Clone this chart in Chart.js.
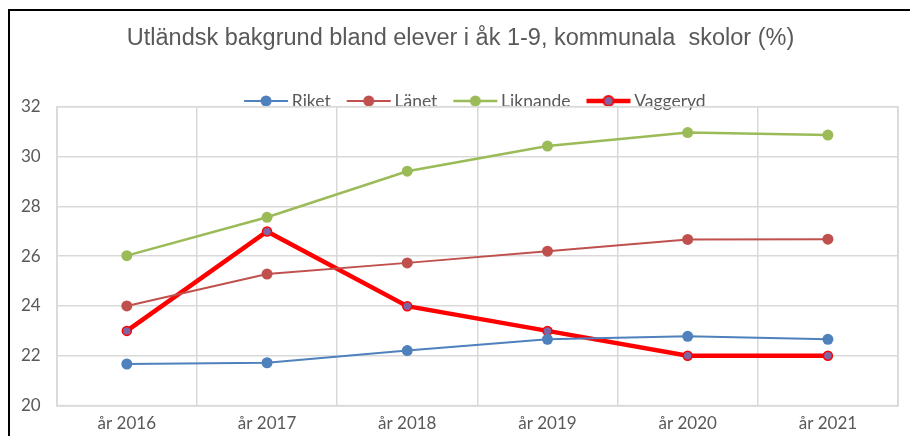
<!DOCTYPE html>
<html>
<head>
<meta charset="utf-8">
<script src="https://cdn.jsdelivr.net/npm/chart.js@4/dist/chart.umd.min.js"></script>
<style>
  html, body { margin: 0; padding: 0; background: #fff; }
  #wrap { width: 910px; height: 436px; position: relative; }
</style>
</head>
<body>
<div id="wrap"><canvas id="chartCanvas"></canvas></div>
<script>
// Data
const years = ["år 2016", "år 2017", "år 2018", "år 2019", "år 2020", "år 2021"];
const riket = [21.67, 21.72, 22.21, 22.66, 22.78, 22.66];
const lanet = [24.0, 25.28, 25.73, 26.2, 26.67, 26.68];
const liknande = [26.02, 27.56, 29.41, 30.42, 30.96, 30.86];
const vaggeryd = [23.0, 26.99, 23.99, 23.0, 22.0, 22.0];
const yTicks = [20, 22, 24, 26, 28, 30, 32];

const grey = '#595959';
const gridGrey = '#d9d9d9';

// Legend symbol: line with marker in the middle
function legendIcon(lineColor, lineW, fill, border, r) {
    const c = document.createElement('canvas');
    c.width = 46; c.height = 14;
    const g = c.getContext('2d');
    g.strokeStyle = lineColor;
    g.lineWidth = lineW;
    g.beginPath();
    g.moveTo(1, 7); g.lineTo(45, 7);
    g.stroke();
    g.beginPath();
    g.arc(23, 7, r, 0, Math.PI * 2);
    g.fillStyle = fill;
    g.fill();
    if (border) {
        g.lineWidth = 2;
        g.strokeStyle = border;
        g.stroke();
    }
    return c;
}

const icons = [
    legendIcon('#4f81bd', 2, '#4f81bd', null, 5.5),
    legendIcon('#c0504d', 2, '#c0504d', null, 5.5),
    legendIcon('#9bbb59', 2.5, '#9bbb59', null, 5.5),
    legendIcon('#ff0000', 4.5, '#8064a2', '#ff0000', 5)
];

// Outer frame (cropped on right and bottom) + plot area border
const framePlugin = {
    id: 'frame',
    beforeDatasetsDraw(chart) {
        const ctx = chart.ctx;
        const a = chart.chartArea;
        ctx.save();
        ctx.strokeStyle = gridGrey;
        ctx.lineWidth = 1.5;
        ctx.strokeRect(a.left, a.top, a.right - a.left, a.bottom - a.top);
        ctx.restore();
    },
    afterDraw(chart) {
        const ctx = chart.ctx;
        ctx.save();
        ctx.strokeStyle = '#000';
        ctx.lineWidth = 2;
        ctx.beginPath();
        ctx.moveTo(9, 440);
        ctx.lineTo(9, 10);
        ctx.lineTo(920, 10);
        ctx.stroke();
        ctx.restore();
    }
};

// Nudge title right (original is cropped on the right) and legend down onto the plot top
const shiftPlugin = {
    id: 'shift',
    afterLayout(chart) {
        chart.titleBlock.left += 9;
        chart.titleBlock.right += 9;
        chart.legend.top += 13;
        chart.legend.bottom += 13;
    }
};

function makeSet(label, data, color, width, r, fill, border) {
    return {
        label: label,
        data: data,
        borderColor: color,
        backgroundColor: fill,
        borderWidth: width,
        pointRadius: r,
        pointHoverRadius: r,
        pointBackgroundColor: fill,
        pointBorderColor: border || fill,
        pointBorderWidth: border ? 1.5 : 0,
        pointStyle: 'circle',
        tension: 0,
        fill: false
    };
}

const ctx = document.getElementById('chartCanvas').getContext('2d');
const chart = new Chart(ctx, {
    type: 'line',
    data: {
        labels: years,
        datasets: [
            makeSet('Riket', riket, '#4f81bd', 2, 5.5, '#4f81bd', null),
            makeSet('Länet', lanet, '#c0504d', 2, 5.5, '#c0504d', null),
            makeSet('Liknande', liknande, '#9bbb59', 2.5, 5.5, '#9bbb59', null),
            makeSet('Vaggeryd', vaggeryd, '#ff0000', 4.5, 4.5, '#8064a2', '#ff0000')
        ]
    },
    options: {
        responsive: true,
        maintainAspectRatio: false,
        animation: false,
        devicePixelRatio: 1,
        layout: { padding: { left: 5, right: 12, top: 0, bottom: 3 } },
        plugins: {
            title: {
                display: true,
                text: 'Utländsk bakgrund bland elever i åk 1-9, kommunala  skolor (%)',
                color: grey,
                font: { family: 'Liberation Sans', size: 23.5, weight: 'normal' },
                padding: { top: 24, bottom: 6 }
            },
            legend: {
                display: true,
                position: 'top',
                fullSize: false,
                labels: {
                    color: grey,
                    font: { family: 'Lato', size: 17.5 },
                    usePointStyle: true,
                    pointStyleWidth: 34,
                    padding: 21,
                    generateLabels(chart) {
                        return chart.data.datasets.map((ds, i) => ({
                            text: ds.label,
                            pointStyle: icons[i],
                            fillStyle: ds.borderColor,
                            strokeStyle: ds.borderColor,
                            lineWidth: 0,
                            fontColor: grey,
                            hidden: false,
                            datasetIndex: i
                        }));
                    }
                }
            },
            tooltip: { enabled: false }
        },
        scales: {
            x: {
                offset: true,
                grid: { offset: true, color: gridGrey, lineWidth: 1.5, drawTicks: false },
                border: { color: gridGrey, width: 1.5 },
                ticks: { color: grey, font: { family: 'Lato', size: 17 }, padding: 8 },
                afterFit(scale) {
                    scale.height -= 9;
                }
            },
            y: {
                min: 20,
                max: 32,
                afterBuildTicks(scale) {
                    scale.ticks = yTicks.map(v => ({ value: v }));
                },
                grid: { color: gridGrey, lineWidth: 1.5, drawTicks: false },
                border: { color: gridGrey, width: 1.5 },
                ticks: { color: grey, font: { family: 'Lato', size: 17 }, padding: 16 }
            }
        }
    },
    plugins: [framePlugin, shiftPlugin]
});
</script>
</body>
</html>
